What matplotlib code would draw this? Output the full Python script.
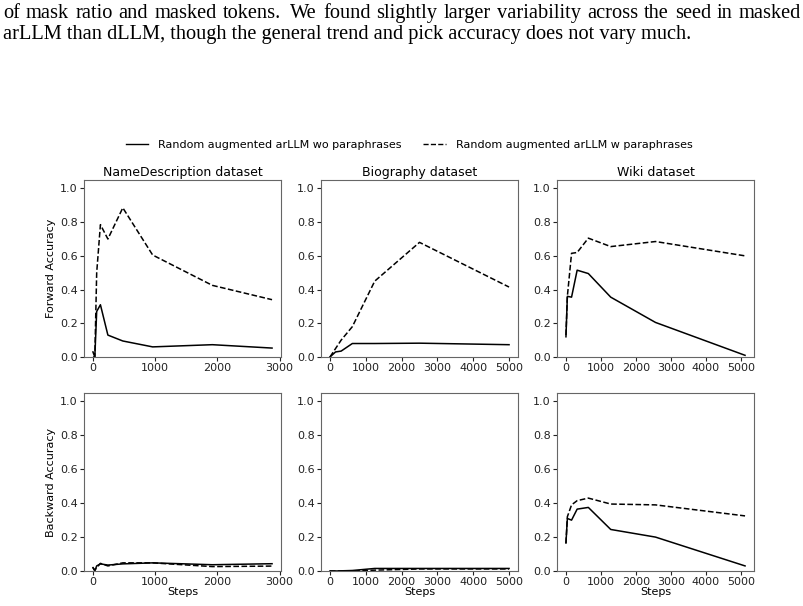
import matplotlib
matplotlib.use("Agg")
import matplotlib.pyplot as plt
import matplotlib.ticker as ticker
from matplotlib.lines import Line2D

# paper text above the figure
caption_1 = "of mask ratio and masked tokens.  We found slightly larger variability across the seed in masked"
caption_2 = "arLLM than dLLM, though the general trend and pick accuracy does not vary much."

titles = ["NameDescription dataset", "Biography dataset", "Wiki dataset"]
row_labels = ["Forward Accuracy", "Backward Accuracy"]
legend_labels = ["Random augmented arLLM wo paraphrases", "Random augmented arLLM w paraphrases"]

# NameDescription
nd_steps = [0, 30, 60, 120, 240, 480, 960, 1920, 2880]
nd_fwd_wo = [0.03, 0.0, 0.27, 0.31, 0.13, 0.095, 0.06, 0.073, 0.053]
nd_fwd_w = [0.0, 0.0, 0.50, 0.785, 0.70, 0.885, 0.605, 0.425, 0.34]
nd_bwd_wo = [0.02, 0.0, 0.03, 0.042, 0.035, 0.042, 0.048, 0.037, 0.043]
nd_bwd_w = [0.02, 0.005, 0.02, 0.045, 0.03, 0.048, 0.048, 0.026, 0.029]

# Biography
bio_steps = [0, 156, 312, 625, 1250, 2500, 5000]
bio_fwd_wo = [0.0, 0.03, 0.035, 0.08, 0.08, 0.082, 0.073]
bio_fwd_w = [0.0, 0.05, 0.10, 0.18, 0.45, 0.68, 0.415]
bio_bwd_wo = [0.0, 0.0, 0.001, 0.003, 0.015, 0.015, 0.015]
bio_bwd_w = [0.0, 0.0, 0.0, 0.0, 0.005, 0.012, 0.012]

# Wiki
wiki_steps = [0, 40, 160, 320, 640, 1280, 2560, 5120]
wiki_fwd_wo = [0.12, 0.36, 0.355, 0.515, 0.495, 0.355, 0.205, 0.01]
wiki_fwd_w = [0.13, 0.36, 0.615, 0.62, 0.705, 0.655, 0.685, 0.60]
wiki_bwd_wo = [0.165, 0.31, 0.30, 0.365, 0.375, 0.245, 0.20, 0.03]
wiki_bwd_w = [0.165, 0.32, 0.39, 0.415, 0.43, 0.395, 0.39, 0.325]

data = [
    [(nd_steps, nd_fwd_wo, nd_fwd_w), (bio_steps, bio_fwd_wo, bio_fwd_w), (wiki_steps, wiki_fwd_wo, wiki_fwd_w)],
    [(nd_steps, nd_bwd_wo, nd_bwd_w), (bio_steps, bio_bwd_wo, bio_bwd_w), (wiki_steps, wiki_bwd_wo, wiki_bwd_w)],
]

W, H = 804, 606
fig = plt.figure(figsize=(W / 100, H / 100), dpi=100)
renderer = fig.canvas.get_renderer()

# first caption line is justified to the page width (wider gap after a full stop)
words = caption_1.split()
txts = [fig.text(0, 1 - 18 / H, wd, family="Liberation Serif", fontsize=14.7, va="baseline") for wd in words]
widths = [t.get_window_extent(renderer).width for t in txts]
weights = [1.6 if wd.endswith(".") else 1.0 for wd in words[:-1]]
gap = (801 - 3 - sum(widths)) / sum(weights)
x = 3
for i, (t, wd) in enumerate(zip(txts, widths)):
    t.set_x(x / W)
    if i < len(weights):
        x += wd + gap * weights[i]
fig.text(3 / W, 1 - 39 / H, caption_2, family="Liberation Serif", fontsize=14.7, va="baseline")

col_x = [(84, 281), (321, 518), (557, 754)]
row_y = [(180, 357), (393, 571)]

for r in range(2):
    for c in range(3):
        x0, x1 = col_x[c]
        y0, y1 = row_y[r]
        ax = fig.add_axes([x0 / W, 1 - y1 / H, (x1 - x0) / W, (y1 - y0) / H])
        steps, wo, w = data[r][c]
        ax.plot(steps, wo, color="black", linewidth=1.1, linestyle="-")
        ax.plot(steps, w, color="black", linewidth=1.1, linestyle="--")
        ax.set_ylim(0, 1.05)
        ax.set_yticks([0.0, 0.2, 0.4, 0.6, 0.8, 1.0])
        ax.xaxis.set_major_locator(ticker.MultipleLocator(1000))
        ax.tick_params(labelsize=8, colors="#222222", length=3.1, pad=1.5)
        for s in ax.spines.values():
            s.set_color("#666666")
        if r == 0:
            ax.set_title(titles[c], fontsize=9, pad=3)
        else:
            ax.set_xlabel("Steps", fontsize=8, labelpad=0)
        if c == 0:
            ax.set_ylabel(row_labels[r], fontsize=8, labelpad=2.5)

handles = [Line2D([], [], color="black", linewidth=1.0, linestyle="-"),
           Line2D([], [], color="black", linewidth=1.0, linestyle="--")]
fig.legend(handles, legend_labels, loc="center", bbox_to_anchor=(409 / W, 1 - 145 / H),
           ncol=2, frameon=False, fontsize=8, handlelength=2.0, handletextpad=0.9,
           columnspacing=2.0)

fig.savefig("out.png", dpi=100)
